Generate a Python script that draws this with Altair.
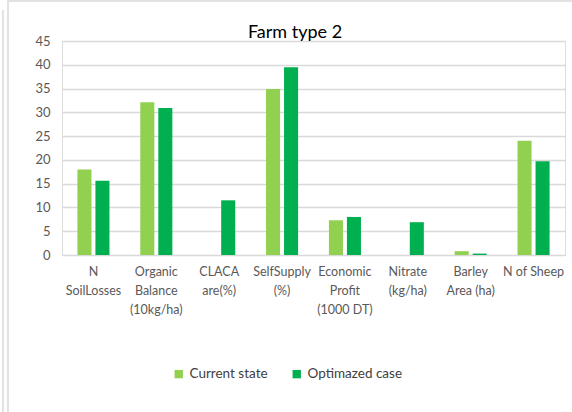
import altair as alt
import pandas as pd

title_text = "Farm type 2"
categories = ["N|SoilLosses", "Organic|Balance|(10kg/ha)", "CLACA|are(%)", "SelfSupply|(%)",
              "Economic|Profit|(1000 DT)", "Nitrate|(kg/ha)", "Barley|Area (ha)", "N of Sheep"]
series = ["Current state", "Optimazed case"]
current = [18.0, 32.1, 0.0, 34.9, 7.3, 0.0, 0.8, 24.0]
optimized = [15.6, 30.9, 11.5, 39.5, 8.0, 6.9, 0.3, 19.7]
y_ticks = [0, 5, 10, 15, 20, 25, 30, 35, 40, 45]

rows = []
for c, a, b in zip(categories, current, optimized):
    rows.append({"cat": c, "series": series[0], "value": a})
    rows.append({"cat": c, "series": series[1], "value": b})
df = pd.DataFrame(rows)

FONT = "Lato"
GRAY = "#595959"

bars = alt.Chart(df).mark_bar().encode(
    x=alt.X("cat:N", sort=categories, title=None,
            scale=alt.Scale(paddingInner=0.49, paddingOuter=0.245),
            axis=alt.Axis(labelAngle=0, labelExpr="split(datum.label, '|')",
                          labelFontSize=12.5, labelColor=GRAY, labelFont=FONT,
                          labelLineHeight=19, labelPadding=10,
                          domain=False, ticks=False, labelLimit=100)),
    xOffset=alt.XOffset("series:N", sort=series,
                        scale=alt.Scale(paddingInner=0.22, paddingOuter=0)),
    y=alt.Y("value:Q", title=None,
            scale=alt.Scale(domain=[0, 45], nice=False),
            axis=alt.Axis(values=y_ticks, labelFontSize=13, labelColor=GRAY, labelFont=FONT,
                          domain=False, ticks=False, labelPadding=12,
                          gridColor="#D9D9D9", gridWidth=1.3)),
    color=alt.Color("series:N", sort=series,
                    scale=alt.Scale(domain=series, range=["#92D050", "#00B050"]),
                    legend=alt.Legend(title=None, orient="none", legendX=110, legendY=326,
                                      direction="horizontal", symbolType="square",
                                      symbolSize=70, symbolStrokeWidth=0,
                                      labelFontSize=13.5, labelFont=FONT, labelColor="#404040",
                                      columnPadding=22, symbolOffset=0)),
)

one = pd.DataFrame({"a": [0]})

border = alt.Chart(one).mark_rect(
    fill=None, stroke="#D9D9D9", strokeWidth=1.5
).encode(x=alt.value(-54), x2=alt.value(520), y=alt.value(-40), y2=alt.value(380))

left_line = alt.Chart(one).mark_rule(
    stroke="#D9D9D9", strokeWidth=1.5
).encode(x=alt.value(-59), y=alt.value(-31), y2=alt.value(380))

title = alt.Chart(one).mark_text(
    text=title_text, fontSize=18, font=FONT, color="#000000",
    align="center", baseline="middle"
).encode(x=alt.value(233), y=alt.value(-8))

chart = alt.layer(border, left_line, bars, title).properties(
    width=503, height=214,
    padding={"left": 62, "top": 41, "right": 7, "bottom": 157},
    autosize=alt.AutoSizeParams(type="none"),
).configure_view(stroke=None).configure(background="white")

chart.save("out.html", embed_options={"renderer": "svg", "actions": False})
